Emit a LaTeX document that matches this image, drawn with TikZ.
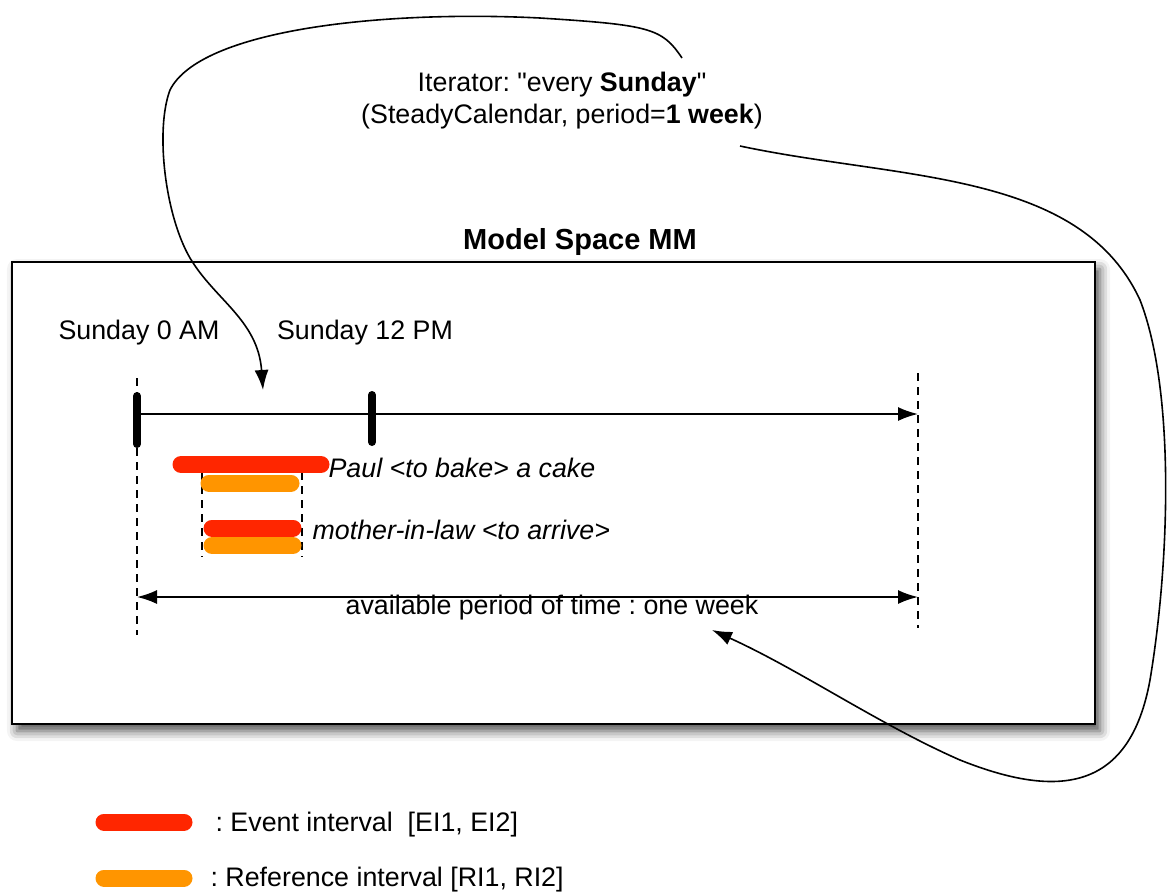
\documentclass[tikz,border=0pt]{standalone}
\usepackage{fontspec}
\setmainfont{Liberation Sans}[Ligatures=TeXOff]
\usepackage{tikz}
\usetikzlibrary{arrows.meta,shadows,shadows.blur,positioning}
\definecolor{evred}{RGB}{255,38,0}
\definecolor{reforange}{RGB}{255,149,0}
\frenchspacing

\begin{document}
\begin{tikzpicture}[x=0.5pt,y=-0.5pt,>={Latex[length=10pt,width=7pt]},semithick,font=\fontsize{13.4}{16}\selectfont]
\tikzstyle{lbl}=[inner sep=0pt,text=black]
\tikzstyle{evbar}=[line width=8.5pt,line cap=round,draw=evred]
\tikzstyle{refbar}=[line width=8.5pt,line cap=round,draw=reforange]
\tikzstyle{guide}=[line width=0.9pt,dash pattern=on 4pt off 3pt]
\tikzstyle{tickmark}=[line width=4pt,line cap=round]
\tikzstyle{link}=[->,line width=0.8pt]
\useasboundingbox (0,0) rectangle (1169,891);

\node[draw,line width=1pt,fill=white,minimum width=541.5pt,minimum height=231pt,inner sep=0pt,
      blur shadow={shadow xshift=2.5pt,shadow yshift=-3.5pt,shadow blur radius=5pt,shadow opacity=70}] (MM) at (553.5,493) {};
\node[lbl,font=\fontsize{14.5}{17}\selectfont\bfseries] (title) at (580,242) {Model Space MM};
\node[lbl,align=center] (iter) at (562,101) {Iterator: "every \textbf{Sunday}"\\(SteadyCalendar, period=\textbf{1 week})};

\node[lbl] (sun0) at (139,333) {Sunday 0 AM};
\node[lbl] (sun12) at (365,333) {Sunday 12 PM};

% time axis
\coordinate (t0) at (137,414);
\coordinate (t12) at (372,414);
\coordinate (tEnd) at (918,414);
\draw[guide] (137,378) -- (137,635);
\draw[guide] (918,373) -- (918,628);
\draw[->,line width=0.9pt] (t0) -- (tEnd);
\draw[tickmark] (137,396) -- (137,444);
\draw[tickmark] (372,395) -- (372,442);

% intervals
\draw[guide] (202,472) -- (202,557);
\draw[guide] (302,472) -- (302,557);
\draw[evbar] (181,464.5) -- (321,464.5);
\draw[refbar] (209,483) -- (291,483);
\draw[evbar] (212,528) -- (293,528);
\draw[refbar] (212,545.5) -- (293,545.5);
\node[lbl,anchor=west,font=\fontsize{13.4}{16}\selectfont\itshape] (paul) at (328,468) {Paul <to bake> a cake};
\node[lbl,anchor=west,font=\fontsize{13.4}{16}\selectfont\itshape] (mil) at (312,530) {mother-in-law <to arrive>};

% available period
\coordinate (p0) at (137,597);
\coordinate (p1) at (918,597);
\draw[<->,line width=0.9pt] (p0) -- (p1);
\node[lbl] (period) at (552,608) {available period of time : one week};

% iterator links
\coordinate (itL) at (682,58);
\coordinate (itR) at (740,146);
\coordinate (hitA) at (263,390);
\coordinate (hitB) at (712,630);
\draw[link] (itL) .. controls (662,28) and (650,25) .. (540,18)
   .. controls (380,10) and (200,30) .. (170,90)
   .. controls (155,130) and (165,215) .. (190,258)
   .. controls (215,300) and (258,320) .. (hitA);
\draw[link] (itR) .. controls (900,180) and (1080,170) .. (1140,300)
   .. controls (1175,390) and (1170,560) .. (1150,680)
   .. controls (1130,790) and (1060,800) .. (960,760)
   .. controls (880,725) and (800,670) .. (hitB);

% legend
\draw[evbar] (104,822) -- (184,822);
\draw[refbar] (104,878) -- (184,878);
\node[lbl,anchor=west] (legEv) at (215,825) {: Event interval\ \ [EI1, EI2]};
\node[lbl,anchor=west] (legRef) at (210,880) {: Reference interval [RI1, RI2]};
\end{tikzpicture}
\end{document}
